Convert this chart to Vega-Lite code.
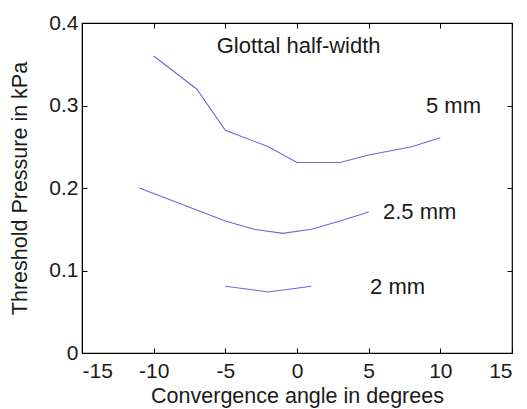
{
  "$schema": "https://vega.github.io/schema/vega-lite/v6.json",
  "width": 430,
  "height": 330,
  "autosize": "none",
  "padding": {"left": 82, "top": 23, "right": 15, "bottom": 56},
  "background": "white",
  "config": {
    "view": {"stroke": "black", "strokeWidth": 1.2},
    "font": "Liberation Sans",
    "axis": {
      "domainColor": "black",
      "tickColor": "black",
      "labelColor": "#1a1a1a",
      "titleColor": "#1a1a1a",
      "labelFont": "Liberation Sans",
      "titleFont": "Liberation Sans",
      "labelFontSize": 21,
      "titleFontSize": 21.5,
      "titleFontWeight": "normal",
      "grid": false,
      "tickSize": -5
    }
  },
  "datasets": {
    "lines": [
      {"angle": -10, "pressure": 0.36, "width": "5 mm"},
      {"angle": -7, "pressure": 0.32, "width": "5 mm"},
      {"angle": -5, "pressure": 0.27, "width": "5 mm"},
      {"angle": -2, "pressure": 0.25, "width": "5 mm"},
      {"angle": 0, "pressure": 0.231, "width": "5 mm"},
      {"angle": 3, "pressure": 0.231, "width": "5 mm"},
      {"angle": 5, "pressure": 0.24, "width": "5 mm"},
      {"angle": 8, "pressure": 0.25, "width": "5 mm"},
      {"angle": 10, "pressure": 0.261, "width": "5 mm"},
      {"angle": -11, "pressure": 0.2, "width": "2.5 mm"},
      {"angle": -8, "pressure": 0.18, "width": "2.5 mm"},
      {"angle": -5, "pressure": 0.16, "width": "2.5 mm"},
      {"angle": -3, "pressure": 0.15, "width": "2.5 mm"},
      {"angle": -1, "pressure": 0.145, "width": "2.5 mm"},
      {"angle": 1, "pressure": 0.15, "width": "2.5 mm"},
      {"angle": 3, "pressure": 0.16, "width": "2.5 mm"},
      {"angle": 5, "pressure": 0.171, "width": "2.5 mm"},
      {"angle": -5, "pressure": 0.081, "width": "2 mm"},
      {"angle": -2, "pressure": 0.074, "width": "2 mm"},
      {"angle": 1, "pressure": 0.081, "width": "2 mm"}
    ],
    "labels": [
      {"angle": -5.6, "pressure": 0.372, "text": "Glottal half-width"},
      {"angle": 9.0, "pressure": 0.3, "text": "5 mm"},
      {"angle": 6.0, "pressure": 0.171, "text": "2.5 mm"},
      {"angle": 5.1, "pressure": 0.08, "text": "2 mm"}
    ]
  },
  "layer": [
    {
      "layer": [
        {
          "data": {"name": "lines"},
          "mark": {"type": "line", "color": "#7264dc", "strokeWidth": 1.1},
          "encoding": {
            "x": {
              "field": "angle", "type": "quantitative",
              "scale": {"domain": [-15, 15], "nice": false, "zero": false},
              "axis": {"orient": "bottom", "values": [-15, -10, -5, 0, 5, 10, 15], "labelExpr": "'' + datum.value", "title": "Convergence angle in degrees", "labelPadding": 12, "titlePadding": 4}
            },
            "y": {
              "field": "pressure", "type": "quantitative",
              "scale": {"domain": [0, 0.4], "nice": false},
              "axis": {"orient": "left", "values": [0, 0.1, 0.2, 0.3, 0.4], "labelExpr": "'' + datum.value", "title": "Threshold Pressure in kPa", "labelPadding": 9, "titlePadding": 17}
            },
            "detail": {"field": "width", "type": "nominal"}
          }
        },
        {
          "data": {"name": "labels"},
          "mark": {"type": "text", "align": "left", "baseline": "middle", "fontSize": 22, "color": "#1a1a1a", "font": "Liberation Sans"},
          "encoding": {
            "x": {"field": "angle", "type": "quantitative"},
            "y": {"field": "pressure", "type": "quantitative"},
            "text": {"field": "text"}
          }
        }
      ]
    },
    {
      "data": {"name": "lines"},
      "mark": {"type": "point", "opacity": 0},
      "encoding": {
        "x": {"field": "angle", "type": "quantitative", "axis": {"orient": "top", "values": [-15, -10, -5, 0, 5, 10, 15], "labels": false, "title": null, "domain": false}},
        "y": {"field": "pressure", "type": "quantitative", "axis": {"orient": "right", "values": [0, 0.1, 0.2, 0.3, 0.4], "labels": false, "title": null, "domain": false}}
      }
    }
  ],
  "resolve": {"axis": {"x": "independent", "y": "independent"}}
}
